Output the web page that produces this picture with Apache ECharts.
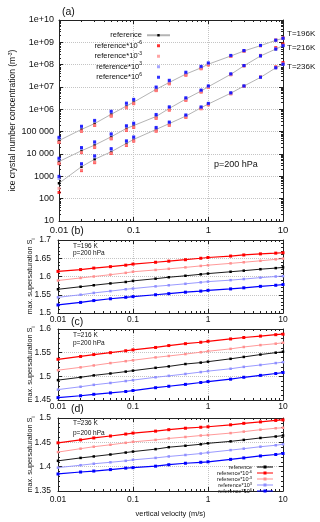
<!DOCTYPE html>
<html>
<head>
<meta charset="utf-8">
<script src="https://cdn.jsdelivr.net/npm/echarts@6/dist/echarts.min.js"></script>
<style>
html, body { margin: 0; padding: 0; background: #fff; }
#chart { width: 320px; height: 522px; }
</style>
</head>
<body>
<div id="chart"></div>
<script>
// vertical velocity (m/s), shared by all panels
var velocity = [0.01, 0.02, 0.03, 0.05, 0.08, 0.1, 0.2, 0.3, 0.5, 0.8, 1, 2, 3, 5, 8, 10];

var xTickLabels = ['0.01', '0.1', '1', '10'];
var xMinor = [0.02, 0.03, 0.04, 0.05, 0.06, 0.07, 0.08, 0.09,
              0.2, 0.3, 0.4, 0.5, 0.6, 0.7, 0.8, 0.9,
              2, 3, 4, 5, 6, 7, 8, 9];
var yLabelsA = ['10', '100', '1000', '10 000', '100 000', '1e+06', '1e+07', '1e+08', '1e+09', '1e+10'];

var caseNames = ['reference', 'reference*10^-6', 'reference*10^-3', 'reference*10^3', 'reference*10^6'];
var caseColors = ['#000000', '#ff0000', '#ff8f8f', '#8f8fff', '#0000ff'];

// (a) ice crystal number concentration (m^-3)
var n196Ref = [4.0e4, 1.26e5, 2.3e5, 6.0e5, 1.4e6, 2.1e6, 7.9e6, 1.6e7, 3.8e7, 7.2e7, 1.05e8, 2.45e8, 4.1e8, 7.1e8, 1.23e9, 1.5e9];
var n196M6  = [3.3e4, 1.05e5, 1.9e5, 5.0e5, 1.18e6, 1.8e6, 6.9e6, 1.4e7, 3.4e7, 6.6e7, 9.8e7, 2.35e8, 4.0e8, 7.1e8, 1.26e9, 1.58e9];
var n196M3  = [3.4e4, 1.08e5, 1.95e5, 5.2e5, 1.2e6, 1.85e6, 7.0e6, 1.42e7, 3.45e7, 6.7e7, 9.9e7, 2.35e8, 4.0e8, 7.0e8, 1.23e9, 1.52e9];
var n196P3  = [5.0e4, 1.6e5, 2.9e5, 7.5e5, 1.7e6, 2.6e6, 9.4e6, 1.85e7, 4.3e7, 8.0e7, 1.15e8, 2.55e8, 4.2e8, 7.2e8, 1.24e9, 1.51e9];
var n196P6  = [5.6e4, 1.75e5, 3.2e5, 8.2e5, 1.9e6, 2.8e6, 1.0e7, 2.0e7, 4.6e7, 8.4e7, 1.2e8, 2.6e8, 4.3e8, 7.3e8, 1.25e9, 1.52e9];

var n216Ref = [4.6e3, 1.4e4, 2.5e4, 5.9e4, 1.4e5, 1.87e5, 4.8e5, 1.1e6, 2.9e6, 6.6e6, 1.03e7, 3.7e7, 8.9e7, 2.45e8, 5.0e8, 7.1e8];
var n216M6  = [3.7e3, 1.15e4, 2.0e4, 4.8e4, 1.15e5, 1.55e5, 4.0e5, 9.3e5, 2.55e6, 6.0e6, 9.6e6, 3.6e7, 8.9e7, 2.6e8, 5.8e8, 8.5e8];
var n216M3  = [3.9e3, 1.2e4, 2.1e4, 5.0e4, 1.2e5, 1.6e5, 4.1e5, 9.5e5, 2.6e6, 6.0e6, 9.5e6, 3.5e7, 8.6e7, 2.45e8, 5.2e8, 7.5e8];
var n216P3  = [5.8e3, 1.75e4, 3.1e4, 7.2e4, 1.7e5, 2.2e5, 5.5e5, 1.22e6, 3.1e6, 7.0e6, 1.08e7, 3.8e7, 9.0e7, 2.45e8, 5.0e8, 7.1e8];
var n216P6  = [6.5e3, 1.95e4, 3.5e4, 8.0e4, 1.85e5, 2.4e5, 5.9e5, 1.3e6, 3.3e6, 7.3e6, 1.12e7, 3.9e7, 9.2e7, 2.5e8, 5.0e8, 7.1e8];

var n236Ref = [490, 2.7e3, 5.8e3, 1.26e4, 3.0e4, 4.5e4, 1.26e5, 2.3e5, 5.0e5, 1.18e6, 1.73e6, 5.3e6, 1.1e7, 2.7e7, 7.2e7, 1.04e8];
var n236M6  = [190, 1.8e3, 4.1e3, 1.05e4, 2.4e4, 3.8e4, 1.06e5, 1.95e5, 4.4e5, 1.07e6, 1.6e6, 5.0e6, 1.07e7, 2.8e7, 8.0e7, 1.25e8];
var n236M3  = [290, 1.9e3, 4.3e3, 1.1e4, 2.5e4, 3.9e4, 1.08e5, 2.0e5, 4.5e5, 1.08e6, 1.62e6, 5.0e6, 1.05e7, 2.65e7, 7.3e7, 1.08e8];
var n236P3  = [800, 3.3e3, 7.3e3, 1.55e4, 3.5e4, 5.3e4, 1.45e5, 2.55e5, 5.4e5, 1.25e6, 1.8e6, 5.4e6, 1.1e7, 2.7e7, 7.2e7, 1.05e8];
var n236P6  = [1.0e3, 3.7e3, 8.3e3, 1.75e4, 3.9e4, 5.8e4, 1.55e5, 2.7e5, 5.6e5, 1.28e6, 1.85e6, 5.5e6, 1.12e7, 2.75e7, 7.3e7, 1.05e8];

// (b) max. supersaturation, T=196 K
var s196Ref = [1.565, 1.572, 1.576, 1.581, 1.585, 1.588, 1.594, 1.598, 1.602, 1.606, 1.608, 1.613, 1.616, 1.620, 1.623, 1.625];
var s196M6  = [1.614, 1.619, 1.623, 1.627, 1.631, 1.634, 1.639, 1.642, 1.646, 1.650, 1.652, 1.656, 1.659, 1.662, 1.664, 1.665];
var s196M3  = [1.589, 1.596, 1.600, 1.605, 1.610, 1.613, 1.618, 1.621, 1.625, 1.629, 1.631, 1.636, 1.639, 1.643, 1.647, 1.649];
var s196P3  = [1.543, 1.550, 1.555, 1.560, 1.565, 1.567, 1.573, 1.576, 1.580, 1.584, 1.586, 1.590, 1.593, 1.597, 1.600, 1.601];
var s196P6  = [1.522, 1.529, 1.534, 1.539, 1.543, 1.545, 1.550, 1.553, 1.557, 1.560, 1.562, 1.566, 1.569, 1.573, 1.576, 1.578];

// (c) T=216 K
var s216Ref = [1.492, 1.498, 1.502, 1.506, 1.510, 1.512, 1.518, 1.521, 1.526, 1.529, 1.531, 1.537, 1.541, 1.546, 1.550, 1.552];
var s216M6  = [1.536, 1.542, 1.546, 1.550, 1.554, 1.556, 1.561, 1.565, 1.569, 1.572, 1.574, 1.579, 1.582, 1.585, 1.588, 1.589];
var s216M3  = [1.513, 1.519, 1.523, 1.528, 1.532, 1.534, 1.540, 1.543, 1.547, 1.551, 1.553, 1.558, 1.562, 1.566, 1.569, 1.571];
var s216P3  = [1.472, 1.478, 1.482, 1.486, 1.490, 1.492, 1.498, 1.501, 1.505, 1.509, 1.511, 1.516, 1.520, 1.524, 1.528, 1.530];
var s216P6  = [1.455, 1.459, 1.462, 1.465, 1.468, 1.470, 1.476, 1.479, 1.483, 1.487, 1.489, 1.494, 1.498, 1.502, 1.506, 1.508];

// (d) T=236 K
var s236Ref = [1.412, 1.418, 1.421, 1.425, 1.429, 1.431, 1.436, 1.440, 1.443, 1.446, 1.448, 1.452, 1.455, 1.459, 1.462, 1.464];
var s236M6  = [1.449, 1.455, 1.459, 1.463, 1.467, 1.469, 1.473, 1.476, 1.479, 1.481, 1.482, 1.486, 1.489, 1.492, 1.495, 1.496];
var s236M3  = [1.430, 1.437, 1.441, 1.445, 1.449, 1.451, 1.455, 1.458, 1.461, 1.464, 1.465, 1.469, 1.472, 1.476, 1.479, 1.480];
var s236P3  = [1.398, 1.403, 1.406, 1.409, 1.412, 1.414, 1.418, 1.421, 1.424, 1.427, 1.429, 1.434, 1.437, 1.441, 1.444, 1.446];
var s236P6  = [1.385, 1.389, 1.391, 1.394, 1.397, 1.398, 1.401, 1.404, 1.407, 1.409, 1.410, 1.415, 1.418, 1.422, 1.425, 1.427];

var chart = echarts.init(document.getElementById('chart'));

var FONT = '"Liberation Sans", Arial, sans-serif';
var AX = '#222';
var supRich = {
    sup: { fontSize: 5, verticalAlign: 'top', lineHeight: 6, fontFamily: FONT },
    sub: { fontSize: 5, verticalAlign: 'bottom', lineHeight: 12, fontFamily: FONT }
};
var squareIcon = 'path://M0,0h1v1h-1z';
var lineIcon = 'path://M0,5h16v1h-16zM6.5,4h3v3h-3z';

var yMinorA = [];
for (var e = 1; e < 10; e++) {
    for (var m = 2; m < 10; m++) yMinorA.push(m * Math.pow(10, e));
}

function pairs(arr) {
    return velocity.map(function (v, i) { return [v, arr[i]]; });
}

// four x axes per grid: bottom major/minor, top major/minor
function xAxesFor(g, fs, margin, name) {
    var base = { type: 'log', logBase: 10, gridIndex: g, min: 0.01, max: 10, silent: true };
    var list = [];
    ['bottom', 'top'].forEach(function (pos) {
        list.push(Object.assign({}, base, {
            position: pos,
            axisLine: { show: true, onZero: false, lineStyle: { color: AX, width: 1 } },
            axisTick: { show: true, inside: true, length: 4, lineStyle: { color: AX } },
            axisLabel: {
                show: pos === 'bottom', fontSize: fs, color: '#111', margin: margin, fontFamily: FONT,
                formatter: function (v) { return xTickLabels[Math.round(Math.log10(v)) + 2]; }
            },
            splitLine: { show: pos === 'bottom', lineStyle: { type: 'dotted', color: '#c4c4c4', width: 1 } },
            name: pos === 'bottom' ? name : '',
            nameLocation: 'middle', nameGap: 19, nameMoveOverlap: false,
            nameTextStyle: { fontSize: 7.5, color: '#111', fontFamily: FONT }
        }));
        list.push(Object.assign({}, base, {
            position: pos,
            axisLine: { show: false },
            axisTick: { show: true, inside: true, length: 2, customValues: xMinor, lineStyle: { color: AX } },
            axisLabel: { show: false },
            splitLine: { show: false }
        }));
    });
    return list;
}

var xAxes = [].concat(
    xAxesFor(0, 9.5, 4, ''),
    xAxesFor(1, 8.5, 2, ''),
    xAxesFor(2, 8.5, 2, ''),
    xAxesFor(3, 8.5, 4, 'vertical velocity (m/s)')
);

var yAxes = [];
// (a): log axis, left and right, major and minor
['left', 'right'].forEach(function (pos) {
    yAxes.push({
        type: 'log', logBase: 10, gridIndex: 0, min: 10, max: 1e10, position: pos, silent: true,
        axisLine: { show: true, onZero: false, lineStyle: { color: AX } },
        axisTick: { show: true, inside: true, length: 4, lineStyle: { color: AX } },
        axisLabel: {
            show: pos === 'left', fontSize: 9, color: '#111', margin: 5, fontFamily: FONT,
            formatter: function (v) { return yLabelsA[Math.round(Math.log10(v)) - 1]; }
        },
        splitLine: { show: pos === 'left', lineStyle: { type: 'dotted', color: '#c4c4c4' } },
        name: pos === 'left' ? 'ice crystal number concentration (m{sup|-3})' : '',
        nameLocation: 'middle', nameGap: 42, nameMoveOverlap: false,
        nameTextStyle: { fontSize: 8.5, color: '#111', fontFamily: FONT, rich: supRich }
    });
    yAxes.push({
        type: 'log', logBase: 10, gridIndex: 0, min: 10, max: 1e10, position: pos, silent: true,
        axisLine: { show: false },
        axisTick: { show: true, inside: true, length: 2, customValues: yMinorA, lineStyle: { color: AX } },
        axisLabel: { show: false },
        splitLine: { show: false }
    });
});
// (b)-(d): linear axes
var sRanges = [[1.5, 1.7], [1.45, 1.6], [1.35, 1.5]];
sRanges.forEach(function (r, k) {
    ['left', 'right'].forEach(function (pos) {
        yAxes.push({
            type: 'value', gridIndex: k + 1, min: r[0], max: r[1], interval: 0.05, position: pos, silent: true,
            axisLine: { show: true, onZero: false, lineStyle: { color: AX } },
            axisTick: { show: true, inside: true, length: 4, lineStyle: { color: AX } },
            minorTick: { show: true, splitNumber: 5, length: 2, lineStyle: { color: AX } },
            axisLabel: { show: pos === 'left', fontSize: 8.5, color: '#111', margin: 7, fontFamily: FONT },
            splitLine: { show: pos === 'left', lineStyle: { type: 'dotted', color: '#c4c4c4' } },
            name: pos === 'left' ? 'max. supersaturation S{sub|i}' : '',
            nameLocation: 'middle', nameGap: 22, nameMoveOverlap: false,
            nameTextStyle: { fontSize: 7.3, color: '#111', fontFamily: FONT, rich: supRich }
        });
    });
});

var series = [];
var concSets = [
    { label: 'T=196K', off: [0, -5], data: [n196Ref, n196M6, n196M3, n196P3, n196P6] },
    { label: 'T=216K', off: [0, 2], data: [n216Ref, n216M6, n216M3, n216P3, n216P6] },
    { label: 'T=236K', off: [0, 3], data: [n236Ref, n236M6, n236M3, n236P3, n236P6] }
];
concSets.forEach(function (set) {
    set.data.forEach(function (arr, c) {
        if (c === 0) {
            series.push({
                type: 'line', name: caseNames[0], xAxisIndex: 0, yAxisIndex: 0,
                data: pairs(arr), symbol: 'rect', symbolSize: 2.5, z: 2,
                itemStyle: { color: '#000' },
                lineStyle: { color: '#b4b4b4', width: 1 },
                endLabel: {
                    show: true, formatter: set.label, distance: 4, offset: set.off,
                    fontSize: 8, color: '#111', fontFamily: FONT
                }
            });
        } else {
            series.push({
                type: 'scatter', name: caseNames[c], xAxisIndex: 0, yAxisIndex: 0,
                data: pairs(arr), symbol: 'rect', symbolSize: 3, z: 3 + c,
                itemStyle: { color: caseColors[c] }
            });
        }
    });
});

var satSets = [
    [s196Ref, s196M6, s196M3, s196P3, s196P6],
    [s216Ref, s216M6, s216M3, s216P3, s216P6],
    [s236Ref, s236M6, s236M3, s236P3, s236P6]
];
satSets.forEach(function (set, k) {
    set.forEach(function (arr, c) {
        var strong = (c === 1 || c === 4);
        series.push({
            type: 'line', name: 'S:' + caseNames[c],
            xAxisIndex: (k + 1) * 4, yAxisIndex: 4 + k * 2,
            data: pairs(arr), symbol: 'rect', symbolSize: strong ? 3 : 2.5,
            itemStyle: { color: caseColors[c] },
            lineStyle: { color: caseColors[c], width: strong ? 1.2 : 0.9 }
        });
    });
});

function legendText(n) {
    return n.replace('S:', '').replace(/\^(\S+)$/, '{sup|$1}');
}

function panelText(str, x, y, fs) {
    return { type: 'text', x: x, y: y, silent: true,
        style: { text: str, fontSize: fs, fill: '#111', fontFamily: FONT, verticalAlign: 'middle' } };
}

var option = {
    animation: false,
    backgroundColor: '#fff',
    grid: [
        { left: 58, top: 20, width: 225, height: 201 },
        { left: 58, top: 240, width: 225, height: 73 },
        { left: 58, top: 329, width: 225, height: 71 },
        { left: 58, top: 418, width: 225, height: 73 }
    ],
    xAxis: xAxes,
    yAxis: yAxes,
    legend: [
        {
            data: caseNames.map(function (n, c) {
                return c === 0 ? { name: n } : { name: n, icon: squareIcon };
            }),
            orient: 'vertical', align: 'right', right: 144, top: 25,
            itemWidth: 23, itemHeight: 3, itemGap: 0, selectedMode: false, symbolKeepAspect: true,
            formatter: legendText,
            textStyle: { fontSize: 7.5, lineHeight: 10.5, color: '#111', fontFamily: FONT, rich: supRich }
        },
        {
            data: caseNames.map(function (n) { return { name: 'S:' + n, icon: lineIcon }; }),
            orient: 'vertical', align: 'right', right: 42, top: 459,
            itemWidth: 16, itemHeight: 3, itemGap: 0, selectedMode: false, symbolKeepAspect: true,
            formatter: legendText,
            textStyle: { fontSize: 5.5, lineHeight: 5.8, color: '#111', fontFamily: FONT,
                rich: { sup: { fontSize: 4, verticalAlign: 'top', lineHeight: 4, fontFamily: FONT } } }
        }
    ],
    graphic: [
        panelText('(a)', 62, 12, 10.5),
        panelText('(b)', 71, 231, 10.5),
        panelText('(c)', 71, 322, 10.5),
        panelText('(d)', 71, 409, 10.5),
        panelText('p=200 hPa', 214, 165, 9),
        panelText('T=196 K', 73, 246.5, 6.5),
        panelText('p=200 hPa', 73, 253.5, 6.5),
        panelText('T=216 K', 73, 335, 6.5),
        panelText('p=200 hPa', 73, 343, 6.5),
        panelText('T=236 K', 73, 423.5, 6.5),
        panelText('p=200 hPa', 73, 433, 6.5)
    ],
    series: series
};

chart.setOption(option);
</script>
</body>
</html>
